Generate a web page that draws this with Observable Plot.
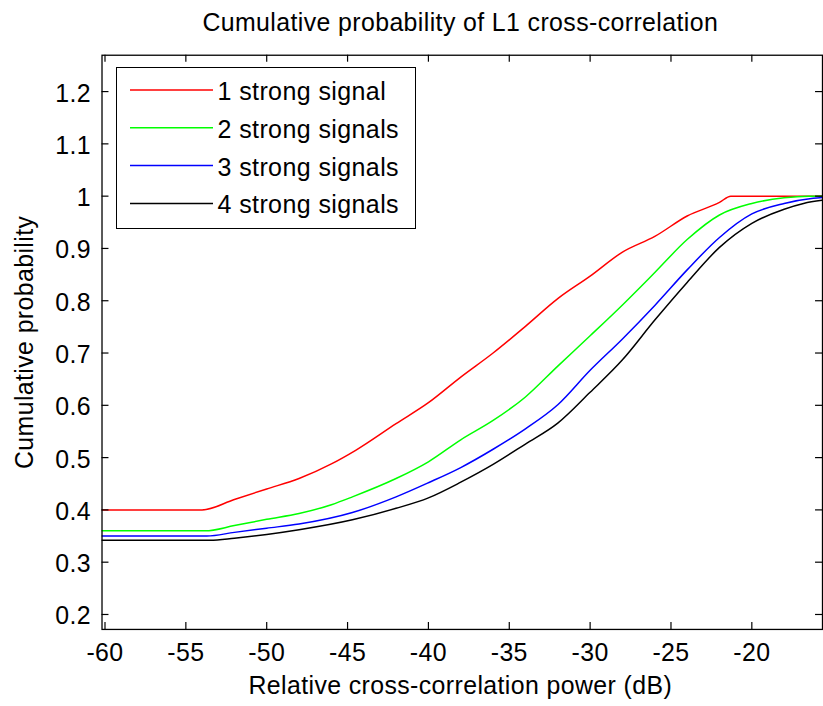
<!DOCTYPE html>
<html>
<head>
<meta charset="utf-8">
<script src="https://cdn.jsdelivr.net/npm/d3@7"></script>
<script src="https://cdn.jsdelivr.net/npm/@observablehq/plot@0.6"></script>
<style>
  html, body { margin: 0; padding: 0; background: white; }
  #wrap { position: relative; width: 823px; height: 706px; overflow: hidden; background: white; }
  #legend { position: absolute; left: 116px; top: 67px; width: 298px; height: 160px;
            border: 1.3px solid black; background: white; }
</style>
</head>
<body>
<div id="wrap"></div>
<script>
const titleText = "Cumulative probability of L1 cross-correlation";
const xLabelText = "Relative cross-correlation power (dB)";
const yLabelText = "Cumulative probability";

const seriesNames = ["1 strong signal", "2 strong signals", "3 strong signals", "4 strong signals"];
const seriesColors = ["#ff0000", "#00ff00", "#0000ff", "#000000"];

const xTicks = [-60, -55, -50, -45, -40, -35, -30, -25, -20];
const yTicks = [0.2, 0.3, 0.4, 0.5, 0.6, 0.7, 0.8, 0.9, 1, 1.1, 1.2];

const x1 = [-60.2, -54, -52, -50, -48, -46, -44.5, -42, -40, -38, -36, -34, -32, -30, -28, -26, -24, -22, -21.3, -15.4];
const y1 = [0.40, 0.40, 0.42, 0.44, 0.46, 0.488, 0.514, 0.565, 0.605, 0.654, 0.70, 0.751, 0.804, 0.847, 0.893, 0.923, 0.962, 0.988, 1.0, 1.0];

const x2 = [-60.2, -53.8, -52, -50, -48, -46, -44.7, -42, -40, -38, -36, -34, -32, -30, -28, -26, -24, -22, -20, -18, -16.5, -15.4];
const y2 = [0.36, 0.36, 0.37, 0.382, 0.393, 0.41, 0.425, 0.46, 0.492, 0.534, 0.571, 0.616, 0.675, 0.733, 0.792, 0.854, 0.917, 0.964, 0.986, 0.997, 1.0, 1.0];

const x3 = [-60.2, -53.7, -52, -50, -48, -44.7, -42, -40, -38, -36, -34, -32, -30, -28, -26, -24, -22, -20, -18, -16.2, -15.4];
const y3 = [0.35, 0.35, 0.357, 0.365, 0.373, 0.395, 0.425, 0.452, 0.481, 0.516, 0.555, 0.601, 0.667, 0.727, 0.791, 0.859, 0.921, 0.966, 0.986, 0.996, 0.998];

const x4 = [-60.2, -53.5, -52, -50, -48, -44.7, -42, -40, -38, -36, -34, -32, -30, -28, -26, -24, -22, -20, -18, -16.8, -15.4];
const y4 = [0.342, 0.342, 0.346, 0.353, 0.362, 0.381, 0.403, 0.423, 0.453, 0.487, 0.526, 0.566, 0.625, 0.687, 0.763, 0.835, 0.902, 0.948, 0.975, 0.986, 0.993];

const xs = [x1, x2, x3, x4];
const ys = [y1, y2, y3, y4];
const rows = [];
seriesNames.forEach((name, i) => {
  xs[i].forEach((xv, j) => rows.push({series: name, x: xv, y: ys[i][j]}));
});

const FONT = "'Liberation Sans', Arial, Helvetica, sans-serif";

const chart = Plot.plot({
  width: 827,
  height: 706,
  marginLeft: 102,
  marginRight: 1,
  marginTop: 55,
  marginBottom: 74,
  style: {fontFamily: FONT, fontSize: "25px", letterSpacing: "0.4px", background: "white", color: "black", overflow: "visible"},
  x: {domain: [-60.185, -15.63]},
  y: {domain: [0.1714, 1.2695]},
  color: {domain: seriesNames, range: seriesColors},
  marks: [
    Plot.line(rows, {x: "x", y: "y", z: "series", stroke: "series", strokeWidth: 1.5, curve: "monotone-x", clip: true}),
    Plot.tickX(xTicks, {x: d => d, insetTop: 570, stroke: "black", strokeWidth: 1.2}),
    Plot.tickX(xTicks, {x: d => d, insetBottom: 570, stroke: "black", strokeWidth: 1.2}),
    Plot.tickY(yTicks, {y: d => d, insetRight: 717, stroke: "black", strokeWidth: 1.2}),
    Plot.tickY(yTicks, {y: d => d, insetLeft: 717, stroke: "black", strokeWidth: 1.2}),
    Plot.frame({stroke: "black", strokeWidth: 1.3}),
    Plot.axisX(xTicks, {tickSize: 0, tickPadding: 14, tickFormat: d => String(d), label: null, fill: "black"}),
    Plot.axisY(yTicks, {tickSize: 0, tickPadding: 11, dy: 2, tickFormat: d => String(d), label: null, fill: "black"}),
    Plot.text([titleText], {text: d => d, frameAnchor: "top", dy: -24, dx: -2, lineAnchor: "bottom", fill: "black"}),
    Plot.text([xLabelText], {text: d => d, frameAnchor: "bottom", dy: 65, dx: -2, lineAnchor: "bottom", fill: "black"}),
    Plot.text([yLabelText], {text: d => d, frameAnchor: "left", dx: -69, rotate: -90, lineAnchor: "bottom", textAnchor: "middle", fill: "black"})
  ]
});

const wrap = document.getElementById("wrap");
wrap.appendChild(chart);

// Legend built from the series arrays
const legend = document.createElement("div");
legend.id = "legend";
const ns = "http://www.w3.org/2000/svg";
const lsvg = document.createElementNS(ns, "svg");
lsvg.setAttribute("width", "298");
lsvg.setAttribute("height", "160");
lsvg.style.fontFamily = FONT;
lsvg.style.fontSize = "25px";
lsvg.style.letterSpacing = "0.4px";
seriesNames.forEach((name, i) => {
  const cy = 22 + i * 37.8;
  const ln = document.createElementNS(ns, "line");
  ln.setAttribute("x1", 13); ln.setAttribute("x2", 96);
  ln.setAttribute("y1", cy); ln.setAttribute("y2", cy);
  ln.setAttribute("stroke", seriesColors[i]);
  ln.setAttribute("stroke-width", 1.5);
  lsvg.appendChild(ln);
  const tx = document.createElementNS(ns, "text");
  tx.setAttribute("x", 100.5);
  tx.setAttribute("y", cy + 10);
  tx.setAttribute("fill", "black");
  tx.textContent = name;
  lsvg.appendChild(tx);
});
legend.appendChild(lsvg);
wrap.appendChild(legend);
</script>
</body>
</html>
